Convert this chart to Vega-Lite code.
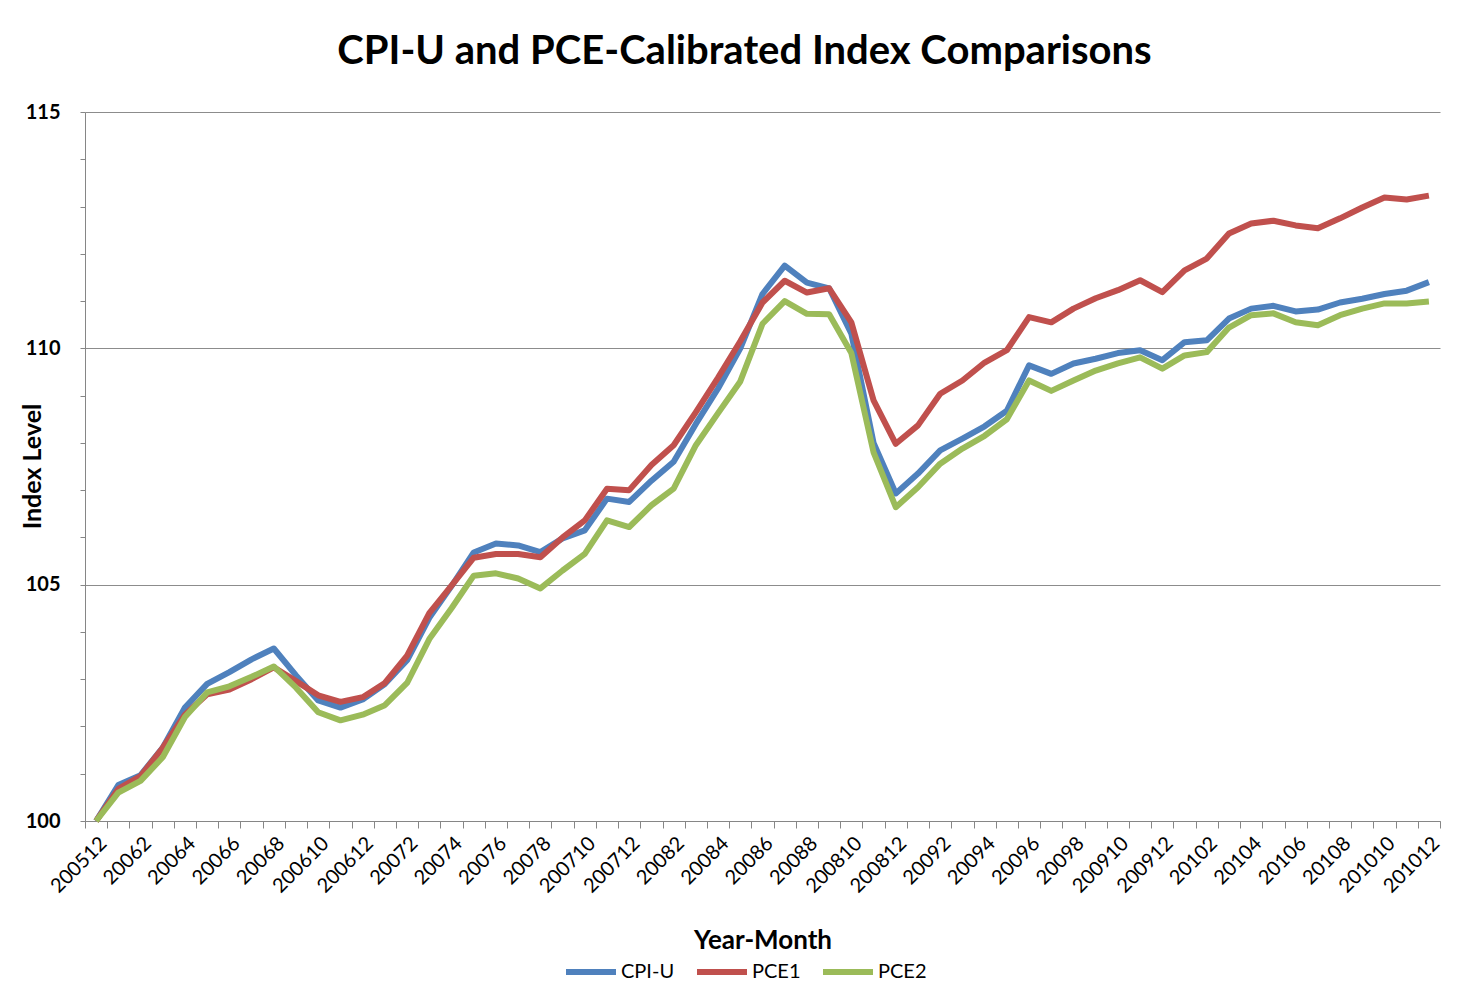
{
  "$schema": "https://vega.github.io/schema/vega-lite/v6.json",
  "width": 1355,
  "height": 709,
  "autosize": {"type": "none"},
  "padding": {"left": 85, "top": 112, "right": 44, "bottom": 185},
  "background": "white",
  "title": {"text": "CPI-U and PCE-Calibrated Index Comparisons", "font": "Lato", "fontSize": 40, "fontWeight": "bold", "color": "#000000", "offset": 30, "anchor": "middle", "dx": -18},
  "data": {"values": [
    {"ym": "200512", "CPI-U": 100, "PCE1": 100, "PCE2": 100},
    {"ym": "20061", "CPI-U": 100.76, "PCE1": 100.68, "PCE2": 100.6},
    {"ym": "20062", "CPI-U": 100.97, "PCE1": 100.95, "PCE2": 100.85},
    {"ym": "20063", "CPI-U": 101.55, "PCE1": 101.55, "PCE2": 101.35},
    {"ym": "20064", "CPI-U": 102.4, "PCE1": 102.25, "PCE2": 102.2},
    {"ym": "20065", "CPI-U": 102.9, "PCE1": 102.68, "PCE2": 102.72},
    {"ym": "20066", "CPI-U": 103.15, "PCE1": 102.78, "PCE2": 102.85},
    {"ym": "20067", "CPI-U": 103.42, "PCE1": 103.0, "PCE2": 103.05},
    {"ym": "20068", "CPI-U": 103.65, "PCE1": 103.25, "PCE2": 103.27},
    {"ym": "20069", "CPI-U": 103.08, "PCE1": 102.96, "PCE2": 102.82},
    {"ym": "200610", "CPI-U": 102.55, "PCE1": 102.66, "PCE2": 102.3},
    {"ym": "200611", "CPI-U": 102.4, "PCE1": 102.52, "PCE2": 102.13},
    {"ym": "200612", "CPI-U": 102.57, "PCE1": 102.62, "PCE2": 102.25},
    {"ym": "20071", "CPI-U": 102.9, "PCE1": 102.92, "PCE2": 102.45},
    {"ym": "20072", "CPI-U": 103.4, "PCE1": 103.5, "PCE2": 102.92},
    {"ym": "20073", "CPI-U": 104.3, "PCE1": 104.4, "PCE2": 103.85},
    {"ym": "20074", "CPI-U": 104.97, "PCE1": 104.98, "PCE2": 104.5},
    {"ym": "20075", "CPI-U": 105.68, "PCE1": 105.57, "PCE2": 105.19},
    {"ym": "20076", "CPI-U": 105.87, "PCE1": 105.65, "PCE2": 105.24},
    {"ym": "20077", "CPI-U": 105.83, "PCE1": 105.65, "PCE2": 105.13},
    {"ym": "20078", "CPI-U": 105.69, "PCE1": 105.58, "PCE2": 104.92},
    {"ym": "20079", "CPI-U": 105.98, "PCE1": 106.0, "PCE2": 105.3},
    {"ym": "200710", "CPI-U": 106.15, "PCE1": 106.36, "PCE2": 105.65},
    {"ym": "200711", "CPI-U": 106.82, "PCE1": 107.03, "PCE2": 106.36},
    {"ym": "200712", "CPI-U": 106.75, "PCE1": 107.0, "PCE2": 106.22},
    {"ym": "20081", "CPI-U": 107.2, "PCE1": 107.53, "PCE2": 106.68},
    {"ym": "20082", "CPI-U": 107.6, "PCE1": 107.95, "PCE2": 107.03},
    {"ym": "20083", "CPI-U": 108.4, "PCE1": 108.65, "PCE2": 107.95},
    {"ym": "20084", "CPI-U": 109.15, "PCE1": 109.38, "PCE2": 108.63},
    {"ym": "20085", "CPI-U": 110.0, "PCE1": 110.15, "PCE2": 109.3},
    {"ym": "20086", "CPI-U": 111.15, "PCE1": 110.97, "PCE2": 110.52},
    {"ym": "20087", "CPI-U": 111.75, "PCE1": 111.43, "PCE2": 111.0},
    {"ym": "20088", "CPI-U": 111.39, "PCE1": 111.18, "PCE2": 110.73},
    {"ym": "20089", "CPI-U": 111.27, "PCE1": 111.27, "PCE2": 110.72},
    {"ym": "200810", "CPI-U": 110.31, "PCE1": 110.55, "PCE2": 109.9},
    {"ym": "200811", "CPI-U": 108.0, "PCE1": 108.9, "PCE2": 107.8},
    {"ym": "200812", "CPI-U": 106.93, "PCE1": 107.98, "PCE2": 106.64},
    {"ym": "20091", "CPI-U": 107.35, "PCE1": 108.37, "PCE2": 107.06},
    {"ym": "20092", "CPI-U": 107.84, "PCE1": 109.04, "PCE2": 107.56},
    {"ym": "20093", "CPI-U": 108.09, "PCE1": 109.32, "PCE2": 107.88},
    {"ym": "20094", "CPI-U": 108.35, "PCE1": 109.7, "PCE2": 108.15},
    {"ym": "20095", "CPI-U": 108.68, "PCE1": 109.96, "PCE2": 108.5},
    {"ym": "20096", "CPI-U": 109.64, "PCE1": 110.66, "PCE2": 109.32},
    {"ym": "20097", "CPI-U": 109.46, "PCE1": 110.55, "PCE2": 109.1},
    {"ym": "20098", "CPI-U": 109.68, "PCE1": 110.84, "PCE2": 109.32},
    {"ym": "20099", "CPI-U": 109.78, "PCE1": 111.06, "PCE2": 109.53},
    {"ym": "200910", "CPI-U": 109.9, "PCE1": 111.23, "PCE2": 109.68},
    {"ym": "200911", "CPI-U": 109.96, "PCE1": 111.44, "PCE2": 109.81},
    {"ym": "200912", "CPI-U": 109.75, "PCE1": 111.19, "PCE2": 109.57},
    {"ym": "20101", "CPI-U": 110.13, "PCE1": 111.65, "PCE2": 109.85},
    {"ym": "20102", "CPI-U": 110.17, "PCE1": 111.9, "PCE2": 109.92},
    {"ym": "20103", "CPI-U": 110.63, "PCE1": 112.43, "PCE2": 110.44},
    {"ym": "20104", "CPI-U": 110.84, "PCE1": 112.64, "PCE2": 110.7},
    {"ym": "20105", "CPI-U": 110.9, "PCE1": 112.7, "PCE2": 110.74},
    {"ym": "20106", "CPI-U": 110.78, "PCE1": 112.6, "PCE2": 110.55},
    {"ym": "20107", "CPI-U": 110.82, "PCE1": 112.54, "PCE2": 110.49},
    {"ym": "20108", "CPI-U": 110.97, "PCE1": 112.75, "PCE2": 110.7},
    {"ym": "20109", "CPI-U": 111.05, "PCE1": 112.98, "PCE2": 110.84},
    {"ym": "201010", "CPI-U": 111.15, "PCE1": 113.19, "PCE2": 110.95},
    {"ym": "201011", "CPI-U": 111.22, "PCE1": 113.15, "PCE2": 110.95},
    {"ym": "201012", "CPI-U": 111.4, "PCE1": 113.23, "PCE2": 110.99}
  ]},
  "transform": [{"fold": ["CPI-U", "PCE1", "PCE2"], "as": ["series", "value"]}],
  "mark": {"type": "line", "strokeWidth": 6, "strokeJoin": "round", "strokeCap": "butt"},
  "encoding": {
    "x": {
      "field": "ym", "type": "ordinal", "sort": null, "bandPosition": 0.5,
      "scale": {"type": "band", "paddingInner": 0, "paddingOuter": 0},
      "axis": {
        "title": "Year-Month", "titleFont": "Lato", "titleFontSize": 26, "titleFontWeight": "bold", "titleColor": "#000000",
        "titleBaseline": "middle", "titleY": 119,
        "labelFont": "Lato", "labelFontSize": 20, "labelColor": "#000000", "labelAngle": -45,
        "labelExpr": "toNumber(substring(datum.label, 4)) % 2 === 0 ? datum.label : ''",
        "labelOverlap": false, "labelBound": false, "labelPadding": 5,
        "tickBand": "extent", "ticks": true, "tickSize": 7, "tickColor": "#868686",
        "domainColor": "#868686", "grid": false
      }
    },
    "y": {
      "field": "value", "type": "quantitative",
      "scale": {"domain": [100, 115], "nice": false, "zero": false},
      "axis": {
        "title": "Index Level", "titleFont": "Lato", "titleFontSize": 25, "titleFontWeight": "bold", "titleColor": "#000000",
        "titleX": -53, "titleY": 354, "titleAngle": -90, "titleAlign": "center", "titleBaseline": "middle",
        "values": [100, 101, 102, 103, 104, 105, 106, 107, 108, 109, 110, 111, 112, 113, 114, 115],
        "labelExpr": "datum.value % 5 === 0 ? datum.label : ''",
        "labelFont": "Lato", "labelFontSize": 20, "labelFontWeight": "bold", "labelColor": "#000000",
        "labelPadding": 20, "tickSize": 5, "tickColor": "#868686", "domainColor": "#868686",
        "grid": true,
        "gridColor": {"condition": {"test": "datum.value % 5 === 0", "value": "#8c8c8c"}, "value": "transparent"}
      }
    },
    "color": {
      "field": "series", "type": "nominal",
      "scale": {"domain": ["CPI-U", "PCE1", "PCE2"], "range": ["#4F81BD", "#C0504D", "#9BBB59"]},
      "legend": {
        "title": null, "orient": "none", "direction": "horizontal", "legendX": 478, "legendY": 832,
        "symbolType": "stroke", "symbolSize": 2500, "symbolStrokeWidth": 6,
        "labelFont": "Lato", "labelFontSize": 20, "labelColor": "#000000", "labelOffset": 2, "columnPadding": 10
      }
    }
  },
  "config": {"view": {"stroke": null}}
}
